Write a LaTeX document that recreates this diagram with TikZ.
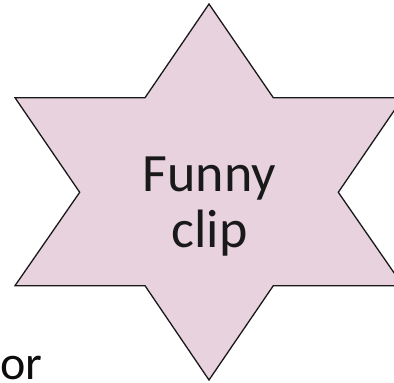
\documentclass[tikz,border=0pt]{standalone}
\usepackage{fontspec}
\setmainfont{Carlito}
\definecolor{starpink}{RGB}{232,210,222}
\tikzset{
  starshape/.style={draw=black!90, line width=1.3pt, fill=starpink, line join=miter},
  bigtext/.style={inner sep=0pt, font=\fontsize{54}{56}\selectfont, text=black!90},
  ortext/.style={inner sep=0pt, text depth=0pt, font=\fontsize{48}{50}\selectfont, text=black!95}
}
\begin{document}
\begin{tikzpicture}[x=1pt,y=1pt]
\useasboundingbox (0,0) rectangle (394,383);
\clip (0,0) rectangle (394,383);
% star points (pixel coords, y flipped)
\coordinate (top) at (209,379);
\coordinate (uri) at (273.3,285.3);
\coordinate (uro) at (403,285.3);
\coordinate (ri) at (338.3,190.7);
\coordinate (lro) at (403,97.3);
\coordinate (lri) at (273.3,97.3);
\coordinate (bot) at (209,3);
\coordinate (lli) at (145,97.3);
\coordinate (llo) at (15,97.3);
\coordinate (li) at (79.7,190.7);
\coordinate (ulo) at (15,285.3);
\coordinate (uli) at (145,285.3);
\draw[starshape] (top) -- (uri) -- (uro) -- (ri) -- (lro) -- (lri) -- (bot) -- (lli) -- (llo) -- (li) -- (ulo) -- (uli) -- cycle;
\node[bigtext, anchor=base] (funny) at (209.5,191) {Funny};
\node[bigtext, anchor=base] (clip) at (209.5,135) {clip};
\node[ortext, anchor=base west] (or) at (0.5,3) {or};
\end{tikzpicture}
\end{document}
